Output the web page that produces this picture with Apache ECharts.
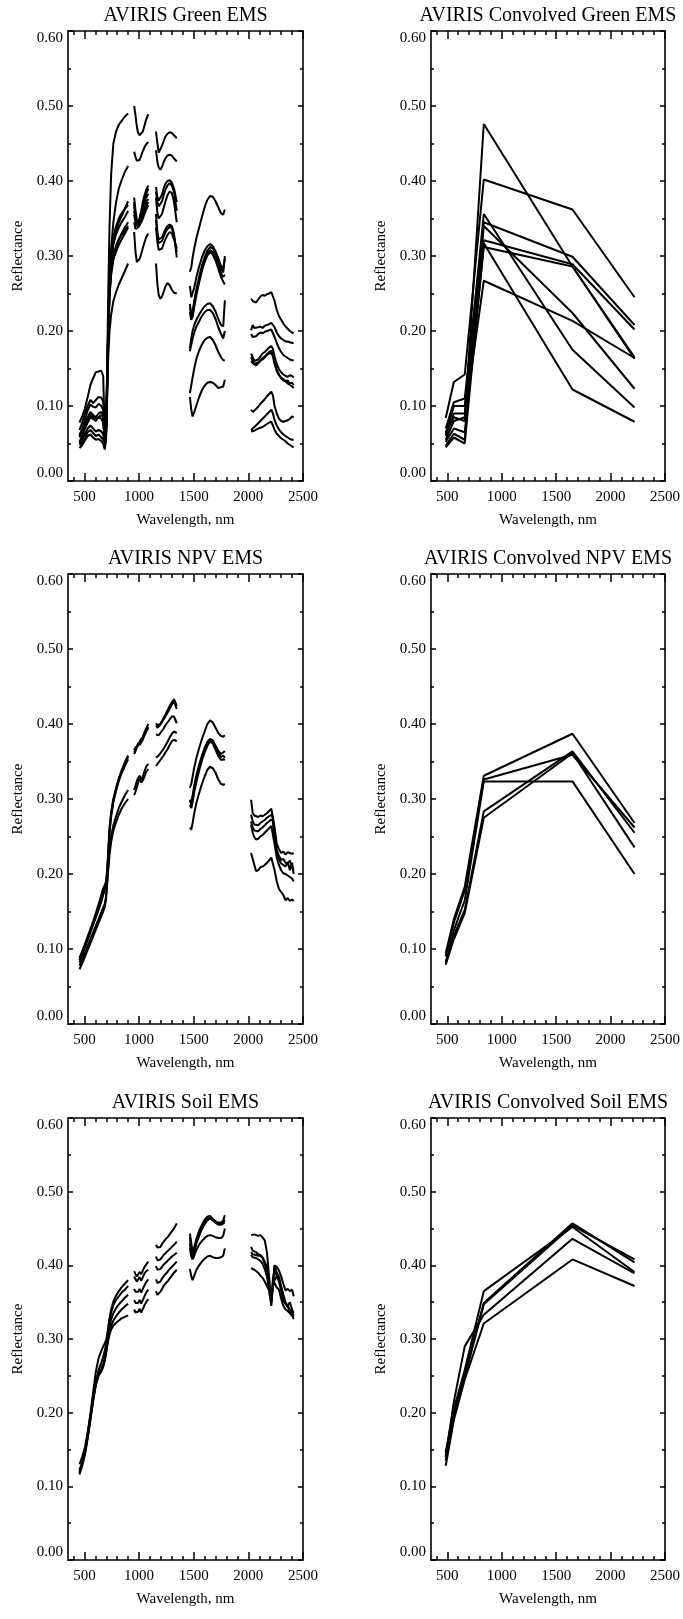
<!DOCTYPE html>
<html>
<head>
<meta charset="utf-8">
<script src="https://cdn.jsdelivr.net/npm/echarts@6/dist/echarts.min.js"></script>
<style>
  html, body { margin: 0; padding: 0; background: #fff; }
  #chart { width: 683px; height: 1619px; }
</style>
</head>
<body>
<div id="chart"></div>
<script>
// ---- Wavelength samples (nm) of the five atmospheric windows kept in the AVIRIS spectra
const seg1Nm = [455, 480, 505, 530, 555, 580, 605, 630, 655, 672, 686, 698, 708, 718, 730, 745, 765, 790, 815, 840, 870, 900];
const seg2Nm = [955, 968, 980, 992, 1005, 1020, 1035, 1050, 1065, 1085];
const seg3Nm = [1155, 1168, 1180, 1195, 1210, 1225, 1240, 1260, 1280, 1300, 1320, 1345];
const seg4Nm = [1465, 1478, 1490, 1505, 1525, 1550, 1575, 1600, 1625, 1650, 1675, 1700, 1725, 1750, 1770, 1785];
const seg5Nm = [2025, 2040, 2055, 2070, 2090, 2110, 2130, 2150, 2170, 2190, 2210, 2225, 2240, 2260, 2280, 2300, 2320, 2340, 2360, 2380, 2400, 2415];

// ---- Landsat TM band centres (nm) used for the convolved spectra
const tmBandsNm = [485, 560, 660, 835, 1650, 2220];

// ---- Tick positions
const xMajorTicks = [500, 1000, 1500, 2000, 2500];
const xMinorTicks = [400, 600, 700, 800, 900, 1100, 1200, 1300, 1400, 1600, 1700, 1800, 1900, 2100, 2200, 2300, 2400];

// ---- Panel titles
const panelTitles = [
  'AVIRIS Green EMS', 'AVIRIS Convolved Green EMS',
  'AVIRIS NPV EMS', 'AVIRIS Convolved NPV EMS',
  'AVIRIS Soil EMS', 'AVIRIS Convolved Soil EMS'
];

// ---- Green vegetation endmembers (one array per window)
const greenEm1 = [
  [0.062, 0.068, 0.075, 0.082, 0.088, 0.086, 0.083, 0.085, 0.083, 0.078, 0.05, 0.065, 0.15, 0.25, 0.34, 0.41, 0.45, 0.466, 0.475, 0.48, 0.486, 0.49],
  [0.50, 0.487, 0.472, 0.464, 0.461, 0.462, 0.466, 0.474, 0.482, 0.489],
  [0.466, 0.45, 0.438, 0.44, 0.447, 0.453, 0.459, 0.463, 0.465, 0.464, 0.461, 0.457],
  [0.236, 0.222, 0.226, 0.24, 0.256, 0.272, 0.287, 0.298, 0.307, 0.312, 0.31, 0.304, 0.294, 0.283, 0.278, 0.30],
  [0.17, 0.165, 0.16, 0.158, 0.162, 0.166, 0.17, 0.172, 0.175, 0.178, 0.18, 0.176, 0.166, 0.156, 0.149, 0.145, 0.142, 0.14, 0.139, 0.141, 0.14, 0.138]
];
const greenEm2 = [
  [0.078, 0.086, 0.097, 0.112, 0.128, 0.137, 0.145, 0.146, 0.147, 0.14, 0.06, 0.075, 0.14, 0.21, 0.27, 0.31, 0.345, 0.372, 0.39, 0.401, 0.412, 0.42],
  [0.439, 0.432, 0.427, 0.426, 0.428, 0.434, 0.44, 0.445, 0.449, 0.452],
  [0.441, 0.425, 0.418, 0.415, 0.419, 0.425, 0.43, 0.434, 0.435, 0.434, 0.43, 0.426],
  [0.279, 0.285, 0.298, 0.31, 0.324, 0.338, 0.352, 0.365, 0.375, 0.38, 0.379, 0.373, 0.365, 0.357, 0.355, 0.362],
  [0.243, 0.24, 0.241, 0.238, 0.242, 0.246, 0.248, 0.247, 0.249, 0.25, 0.252, 0.254, 0.24, 0.228, 0.22, 0.215, 0.21, 0.206, 0.203, 0.2, 0.198, 0.197]
];
const greenEm3 = [
  [0.068, 0.078, 0.09, 0.1, 0.108, 0.104, 0.108, 0.112, 0.111, 0.106, 0.055, 0.07, 0.13, 0.2, 0.255, 0.29, 0.317, 0.333, 0.345, 0.353, 0.363, 0.373],
  [0.378, 0.36, 0.348, 0.345, 0.35, 0.36, 0.372, 0.381, 0.388, 0.394],
  [0.392, 0.378, 0.374, 0.376, 0.382, 0.39, 0.396, 0.4, 0.401, 0.398, 0.39, 0.372],
  [0.26, 0.245, 0.246, 0.258, 0.272, 0.286, 0.298, 0.307, 0.313, 0.316, 0.313, 0.306, 0.297, 0.287, 0.283, 0.296],
  [0.201, 0.208, 0.204, 0.203, 0.205, 0.206, 0.204, 0.207, 0.208, 0.209, 0.211, 0.212, 0.205, 0.198, 0.193, 0.19, 0.188, 0.186, 0.186, 0.185, 0.184, 0.184]
];
const greenEm4 = [
  [0.058, 0.066, 0.077, 0.085, 0.092, 0.088, 0.085, 0.09, 0.092, 0.088, 0.05, 0.065, 0.13, 0.2, 0.25, 0.28, 0.3, 0.313, 0.322, 0.33, 0.338, 0.345],
  [0.36, 0.348, 0.342, 0.343, 0.35, 0.358, 0.366, 0.372, 0.378, 0.383],
  [0.356, 0.332, 0.322, 0.32, 0.325, 0.33, 0.335, 0.34, 0.342, 0.34, 0.33, 0.298],
  [0.232, 0.219, 0.222, 0.236, 0.252, 0.268, 0.283, 0.294, 0.303, 0.308, 0.305, 0.298, 0.288, 0.277, 0.272, 0.275],
  [0.196, 0.192, 0.194, 0.193, 0.196, 0.198, 0.197, 0.199, 0.2, 0.201, 0.202, 0.2, 0.192, 0.184, 0.177, 0.172, 0.168, 0.166, 0.164, 0.162, 0.161, 0.161]
];
const greenEm5 = [
  [0.05, 0.056, 0.063, 0.07, 0.074, 0.07, 0.066, 0.068, 0.066, 0.062, 0.045, 0.06, 0.125, 0.195, 0.245, 0.275, 0.295, 0.306, 0.315, 0.322, 0.33, 0.338],
  [0.355, 0.345, 0.34, 0.341, 0.344, 0.35, 0.356, 0.362, 0.367, 0.372],
  [0.348, 0.325, 0.317, 0.316, 0.32, 0.326, 0.331, 0.336, 0.339, 0.337, 0.326, 0.305],
  [0.225, 0.215, 0.219, 0.232, 0.248, 0.265, 0.28, 0.292, 0.301, 0.305, 0.302, 0.294, 0.283, 0.272, 0.266, 0.262],
  [0.165, 0.16, 0.156, 0.155, 0.158, 0.161, 0.164, 0.166, 0.169, 0.172, 0.174, 0.169, 0.158, 0.148, 0.142, 0.138, 0.136, 0.133, 0.13, 0.128, 0.126, 0.124]
];
const greenEm6 = [
  [0.06, 0.07, 0.082, 0.094, 0.102, 0.099, 0.098, 0.103, 0.1, 0.095, 0.05, 0.065, 0.13, 0.21, 0.265, 0.3, 0.326, 0.34, 0.35, 0.357, 0.363, 0.368],
  [0.372, 0.352, 0.342, 0.34, 0.346, 0.356, 0.366, 0.376, 0.383, 0.39],
  [0.386, 0.372, 0.366, 0.366, 0.373, 0.381, 0.388, 0.394, 0.397, 0.394, 0.385, 0.36],
  [0.117, 0.128, 0.138, 0.15, 0.163, 0.174, 0.182, 0.188, 0.191, 0.192, 0.188, 0.181, 0.172, 0.165, 0.161, 0.161],
  [0.068, 0.07, 0.072, 0.074, 0.077, 0.08, 0.083, 0.086, 0.089, 0.092, 0.095, 0.09, 0.081, 0.074, 0.069, 0.065, 0.062, 0.06, 0.058, 0.056, 0.055, 0.055]
];
const greenEm7 = [
  [0.048, 0.052, 0.058, 0.065, 0.068, 0.064, 0.06, 0.062, 0.058, 0.055, 0.045, 0.06, 0.12, 0.2, 0.255, 0.29, 0.316, 0.329, 0.338, 0.345, 0.352, 0.36],
  [0.368, 0.35, 0.34, 0.338, 0.341, 0.349, 0.357, 0.364, 0.372, 0.376],
  [0.378, 0.357, 0.35, 0.35, 0.356, 0.364, 0.372, 0.381, 0.386, 0.384, 0.372, 0.345],
  [0.177, 0.19, 0.2, 0.208, 0.215, 0.222, 0.228, 0.233, 0.236, 0.237, 0.233, 0.226, 0.216, 0.208, 0.206, 0.241],
  [0.095, 0.092, 0.094, 0.096, 0.099, 0.103, 0.106, 0.109, 0.113, 0.116, 0.119, 0.114, 0.1, 0.09, 0.083, 0.08, 0.079, 0.08, 0.081, 0.083, 0.086, 0.085]
];
const greenEm8 = [
  [0.044, 0.048, 0.054, 0.06, 0.062, 0.058, 0.055, 0.056, 0.053, 0.05, 0.042, 0.055, 0.12, 0.195, 0.25, 0.282, 0.302, 0.313, 0.322, 0.328, 0.334, 0.34],
  [0.345, 0.336, 0.336, 0.338, 0.34, 0.345, 0.35, 0.356, 0.362, 0.368],
  [0.29, 0.262, 0.248, 0.243, 0.246, 0.252, 0.259, 0.264, 0.261, 0.255, 0.251, 0.25],
  [0.112, 0.095, 0.086, 0.092, 0.101, 0.112, 0.121, 0.127, 0.131, 0.132, 0.131, 0.128, 0.124, 0.125, 0.126, 0.135],
  [0.066, 0.066, 0.067, 0.068, 0.07, 0.071, 0.072, 0.074, 0.076, 0.078, 0.079, 0.074, 0.068, 0.063, 0.06, 0.057, 0.055, 0.053, 0.05, 0.048, 0.046, 0.045]
];
const greenEm9 = [
  [0.052, 0.06, 0.07, 0.078, 0.085, 0.083, 0.08, 0.085, 0.088, 0.085, 0.05, 0.062, 0.11, 0.165, 0.2, 0.222, 0.24, 0.252, 0.262, 0.27, 0.28, 0.29],
  [0.332, 0.305, 0.292, 0.29, 0.296, 0.303, 0.311, 0.318, 0.325, 0.33],
  [0.338, 0.318, 0.308, 0.306, 0.31, 0.316, 0.322, 0.328, 0.332, 0.33, 0.322, 0.31],
  [0.173, 0.182, 0.19, 0.198, 0.206, 0.213, 0.22, 0.225, 0.228, 0.228, 0.224, 0.216, 0.205, 0.196, 0.19, 0.2],
  [0.16, 0.157, 0.155, 0.154, 0.157, 0.16, 0.162, 0.165, 0.168, 0.17, 0.171, 0.166, 0.156, 0.147, 0.141, 0.137, 0.134, 0.133, 0.134, 0.13, 0.131, 0.128]
];

// ---- Non-photosynthetic vegetation endmembers
const npvEm1 = [
  [0.088, 0.097, 0.107, 0.117, 0.127, 0.137, 0.148, 0.16, 0.172, 0.181, 0.185, 0.19, 0.205, 0.23, 0.262, 0.283, 0.3, 0.315, 0.328, 0.338, 0.349, 0.358],
  [0.362, 0.366, 0.37, 0.372, 0.374, 0.378, 0.383, 0.389, 0.394, 0.4],
  [0.401, 0.398, 0.397, 0.4, 0.404, 0.408, 0.412, 0.418, 0.424, 0.429, 0.433, 0.424],
  [0.315, 0.32, 0.33, 0.342, 0.355, 0.368, 0.38, 0.39, 0.4, 0.405, 0.402, 0.395, 0.388, 0.384, 0.383, 0.385],
  [0.299, 0.281, 0.278, 0.277, 0.276, 0.278, 0.277, 0.279, 0.281, 0.284, 0.287, 0.288, 0.262, 0.24, 0.233, 0.228, 0.23, 0.226, 0.229, 0.228, 0.227, 0.228]
];
const npvEm2 = [
  [0.085, 0.094, 0.104, 0.114, 0.124, 0.134, 0.145, 0.156, 0.167, 0.176, 0.181, 0.186, 0.2, 0.226, 0.258, 0.28, 0.298, 0.313, 0.326, 0.337, 0.348, 0.356],
  [0.365, 0.369, 0.368, 0.371, 0.376, 0.38, 0.382, 0.386, 0.391, 0.396],
  [0.398, 0.395, 0.396, 0.399, 0.403, 0.406, 0.41, 0.415, 0.42, 0.426, 0.43, 0.42],
  [0.299, 0.296, 0.305, 0.318, 0.332, 0.346, 0.358, 0.368, 0.376, 0.38, 0.378, 0.371, 0.364, 0.36, 0.362, 0.364],
  [0.279, 0.27, 0.266, 0.264, 0.265, 0.268, 0.27, 0.272, 0.275, 0.277, 0.279, 0.275, 0.25, 0.232, 0.224, 0.219, 0.22, 0.215, 0.214, 0.218, 0.208, 0.205]
];
const npvEm3 = [
  [0.082, 0.092, 0.102, 0.112, 0.122, 0.132, 0.142, 0.152, 0.163, 0.172, 0.178, 0.184, 0.198, 0.224, 0.255, 0.277, 0.296, 0.311, 0.324, 0.334, 0.344, 0.353],
  [0.36, 0.364, 0.37, 0.375, 0.372, 0.374, 0.379, 0.385, 0.39, 0.394],
  [0.386, 0.384, 0.385, 0.387, 0.391, 0.394, 0.398, 0.402, 0.406, 0.41, 0.41, 0.401],
  [0.262, 0.259, 0.268, 0.281, 0.295, 0.308, 0.32, 0.33, 0.339, 0.343, 0.341, 0.335, 0.326, 0.32, 0.319, 0.32],
  [0.228, 0.22, 0.212, 0.204, 0.205, 0.209, 0.21, 0.212, 0.215, 0.218, 0.222, 0.224, 0.205, 0.19, 0.18, 0.176, 0.172, 0.165, 0.168, 0.164, 0.166, 0.164]
];
const npvEm4 = [
  [0.078, 0.086, 0.095, 0.104, 0.113, 0.122, 0.131, 0.14, 0.149, 0.155, 0.16, 0.17, 0.19, 0.21, 0.232, 0.25, 0.265, 0.277, 0.288, 0.296, 0.305, 0.312],
  [0.312, 0.318, 0.324, 0.328, 0.331, 0.326, 0.33, 0.337, 0.343, 0.347],
  [0.355, 0.356, 0.358, 0.36, 0.364, 0.367, 0.371, 0.376, 0.382, 0.387, 0.39, 0.388],
  [0.298, 0.292, 0.3, 0.313, 0.328, 0.342, 0.355, 0.366, 0.374, 0.379, 0.377, 0.369, 0.361, 0.356, 0.358, 0.355],
  [0.27, 0.262, 0.258, 0.256, 0.257, 0.26, 0.262, 0.265, 0.268, 0.27, 0.273, 0.27, 0.245, 0.228, 0.22, 0.214, 0.212, 0.21, 0.216, 0.205, 0.215, 0.2]
];
const npvEm5 = [
  [0.073, 0.081, 0.09, 0.099, 0.108, 0.117, 0.126, 0.135, 0.144, 0.15, 0.156, 0.166, 0.185, 0.205, 0.226, 0.243, 0.258, 0.269, 0.279, 0.287, 0.294, 0.30],
  [0.305, 0.31, 0.316, 0.322, 0.327, 0.322, 0.325, 0.33, 0.336, 0.34],
  [0.344, 0.346, 0.349, 0.352, 0.355, 0.358, 0.362, 0.366, 0.372, 0.377, 0.379, 0.377],
  [0.292, 0.288, 0.296, 0.309, 0.323, 0.338, 0.351, 0.362, 0.371, 0.377, 0.374, 0.366, 0.357, 0.352, 0.353, 0.352],
  [0.266, 0.255, 0.249, 0.246, 0.247, 0.25, 0.252, 0.255, 0.258, 0.261, 0.264, 0.262, 0.24, 0.222, 0.212, 0.205, 0.201, 0.2, 0.198, 0.196, 0.194, 0.19]
];

// ---- Soil endmembers
const soilEm1 = [
  [0.118, 0.13, 0.146, 0.17, 0.198, 0.228, 0.256, 0.274, 0.284, 0.29, 0.294, 0.298, 0.305, 0.315, 0.328, 0.34, 0.351, 0.359, 0.365, 0.37, 0.375, 0.38],
  [0.392, 0.388, 0.385, 0.386, 0.391, 0.388, 0.393, 0.398, 0.401, 0.405],
  [0.428, 0.424, 0.422, 0.425, 0.429, 0.432, 0.435, 0.438, 0.442, 0.446, 0.45, 0.457],
  [0.443, 0.43, 0.418, 0.425, 0.436, 0.447, 0.455, 0.462, 0.466, 0.467, 0.463, 0.459, 0.458, 0.458, 0.461, 0.468],
  [0.441, 0.443, 0.442, 0.441, 0.44, 0.441, 0.438, 0.434, 0.418, 0.385, 0.35, 0.378, 0.4, 0.398, 0.393, 0.385, 0.375, 0.366, 0.368, 0.365, 0.367, 0.358]
];
const soilEm2 = [
  [0.12, 0.131, 0.145, 0.167, 0.193, 0.22, 0.243, 0.258, 0.268, 0.276, 0.284, 0.293, 0.303, 0.314, 0.326, 0.336, 0.346, 0.353, 0.358, 0.363, 0.367, 0.372],
  [0.385, 0.381, 0.378, 0.38, 0.384, 0.379, 0.384, 0.389, 0.392, 0.394],
  [0.412, 0.407, 0.405, 0.408, 0.411, 0.414, 0.416, 0.419, 0.422, 0.425, 0.428, 0.432],
  [0.438, 0.42, 0.412, 0.42, 0.432, 0.443, 0.452, 0.458, 0.463, 0.465, 0.462, 0.46, 0.456, 0.457, 0.458, 0.462],
  [0.425, 0.42, 0.419, 0.418, 0.415, 0.414, 0.411, 0.405, 0.398, 0.372, 0.348, 0.37, 0.4, 0.39, 0.385, 0.372, 0.36, 0.35, 0.345, 0.34, 0.336, 0.332]
];
const soilEm3 = [
  [0.116, 0.128, 0.143, 0.165, 0.19, 0.216, 0.238, 0.252, 0.26, 0.266, 0.274, 0.285, 0.296, 0.306, 0.317, 0.327, 0.335, 0.342, 0.347, 0.351, 0.356, 0.36],
  [0.368, 0.364, 0.362, 0.364, 0.368, 0.363, 0.368, 0.373, 0.377, 0.381],
  [0.399, 0.394, 0.392, 0.395, 0.398, 0.401, 0.403, 0.406, 0.409, 0.412, 0.414, 0.417],
  [0.43, 0.415, 0.41, 0.418, 0.43, 0.44, 0.449, 0.456, 0.461, 0.464, 0.461, 0.458, 0.455, 0.455, 0.457, 0.458],
  [0.418, 0.415, 0.414, 0.414, 0.413, 0.413, 0.41, 0.402, 0.39, 0.365, 0.345, 0.382, 0.392, 0.386, 0.38, 0.37, 0.356, 0.348, 0.343, 0.338, 0.332, 0.327]
];
const soilEm4 = [
  [0.122, 0.133, 0.147, 0.168, 0.192, 0.217, 0.238, 0.25, 0.256, 0.262, 0.27, 0.28, 0.291, 0.3, 0.31, 0.318, 0.325, 0.331, 0.336, 0.34, 0.344, 0.348],
  [0.353, 0.349, 0.347, 0.349, 0.353, 0.348, 0.353, 0.358, 0.363, 0.367],
  [0.381, 0.376, 0.375, 0.378, 0.382, 0.385, 0.388, 0.391, 0.395, 0.398, 0.401, 0.405],
  [0.423, 0.412, 0.408, 0.413, 0.421, 0.428, 0.433, 0.437, 0.44, 0.441, 0.44, 0.438, 0.437, 0.437, 0.44, 0.45],
  [0.414, 0.411, 0.412, 0.41, 0.408, 0.406, 0.402, 0.395, 0.385, 0.37, 0.36, 0.372, 0.38, 0.385, 0.378, 0.365, 0.352, 0.348, 0.345, 0.35, 0.34, 0.335]
];
const soilEm5 = [
  [0.13, 0.14, 0.153, 0.174, 0.197, 0.22, 0.24, 0.252, 0.258, 0.264, 0.272, 0.281, 0.29, 0.298, 0.306, 0.313, 0.318, 0.322, 0.325, 0.328, 0.33, 0.332],
  [0.34, 0.336, 0.335, 0.337, 0.341, 0.336, 0.341, 0.346, 0.35, 0.354],
  [0.365, 0.36, 0.36, 0.364, 0.368, 0.372, 0.375, 0.378, 0.382, 0.386, 0.39, 0.394],
  [0.395, 0.385, 0.38, 0.386, 0.394, 0.4, 0.405, 0.409, 0.412, 0.413, 0.411, 0.41, 0.41, 0.411, 0.413, 0.423],
  [0.396, 0.395, 0.394, 0.393, 0.39, 0.386, 0.383, 0.378, 0.372, 0.366, 0.362, 0.372, 0.376, 0.37, 0.367, 0.355, 0.345, 0.34, 0.338, 0.335, 0.332, 0.329]
];

// ---- Endmembers convolved to the TM bands (one value per band)
const convGreen = [
  [0.065, 0.085, 0.08, 0.476, 0.286, 0.165],
  [0.084, 0.132, 0.142, 0.402, 0.362, 0.245],
  [0.07, 0.105, 0.11, 0.345, 0.299, 0.208],
  [0.06, 0.09, 0.09, 0.321, 0.289, 0.202],
  [0.052, 0.07, 0.065, 0.312, 0.286, 0.163],
  [0.062, 0.1, 0.1, 0.356, 0.175, 0.098],
  [0.047, 0.063, 0.055, 0.340, 0.224, 0.123],
  [0.045, 0.058, 0.05, 0.317, 0.122, 0.079],
  [0.055, 0.08, 0.085, 0.267, 0.2135, 0.164]
];
const convNpv = [
  [0.094, 0.14, 0.183, 0.331, 0.387, 0.268],
  [0.09, 0.135, 0.178, 0.326, 0.359, 0.262],
  [0.08, 0.125, 0.165, 0.3235, 0.3235, 0.2],
  [0.083, 0.118, 0.152, 0.2835, 0.3635, 0.255],
  [0.079, 0.113, 0.148, 0.275, 0.361, 0.2355]
];
const convSoil = [
  [0.14, 0.215, 0.29, 0.333, 0.436, 0.389],
  [0.146, 0.205, 0.258, 0.365, 0.452, 0.391],
  [0.142, 0.2, 0.253, 0.349, 0.457, 0.404],
  [0.135, 0.195, 0.248, 0.347, 0.454, 0.408],
  [0.128, 0.19, 0.245, 0.321, 0.408, 0.372]
];

// ---------------------------------------------------------------------------
const FONT = 'Liberation Serif';
const INK = '#000';
const segmentsNm = [seg1Nm, seg2Nm, seg3Nm, seg4Nm, seg5Nm];

// Join the windows into one [nm, refl] list, with a null between windows so the
// absorption bands stay blank.
function windowedSeries(spectrum) {
  const out = [];
  segmentsNm.forEach((nm, s) => {
    if (s > 0) {
      const prev = segmentsNm[s - 1];
      out.push([(prev[prev.length - 1] + nm[0]) / 2, null]);
    }
    nm.forEach((w, k) => out.push([w, spectrum[s][k]]));
  });
  return out;
}
function bandSeries(values) {
  return tmBandsNm.map((w, k) => [w, values[k]]);
}

const panels = [
  { left: 68,  top: 31,   width: 235, height: 450, lines: [greenEm1, greenEm2, greenEm3, greenEm4, greenEm5, greenEm6, greenEm7, greenEm8, greenEm9].map(windowedSeries) },
  { left: 431, top: 31,   width: 234, height: 450, lines: convGreen.map(bandSeries) },
  { left: 68,  top: 574,  width: 235, height: 450, lines: [npvEm1, npvEm2, npvEm3, npvEm4, npvEm5].map(windowedSeries) },
  { left: 431, top: 574,  width: 234, height: 450, lines: convNpv.map(bandSeries) },
  { left: 68,  top: 1118, width: 235, height: 442, lines: [soilEm1, soilEm2, soilEm3, soilEm4, soilEm5].map(windowedSeries) },
  { left: 431, top: 1118, width: 234, height: 442, lines: convSoil.map(bandSeries) }
];

const grid = [], xAxis = [], yAxis = [], series = [], graphic = [];
const labelStyle = { fontFamily: FONT, fontSize: 15, color: INK };
const frame = { color: INK, width: 1.6 };
const tickLine = { color: INK, width: 1.5 };

panels.forEach((p, i) => {
  grid.push({ left: p.left, top: p.top, width: p.width, height: p.height, containLabel: false });

  const xBase = { gridIndex: i, type: 'value', min: 350, max: 2500, splitLine: { show: false }, minorSplitLine: { show: false } };
  // bottom: major ticks, labels and name
  xAxis.push(Object.assign({}, xBase, {
    position: 'bottom',
    axisLine: { show: true, onZero: false, lineStyle: frame },
    axisTick: { show: true, inside: true, length: 8, customValues: xMajorTicks, lineStyle: tickLine },
    axisLabel: Object.assign({ show: true, margin: 9, customValues: xMajorTicks, formatter: v => String(v) }, labelStyle),
    name: 'Wavelength, nm', nameLocation: 'middle', nameGap: 32,
    nameTextStyle: labelStyle
  }));
  // bottom: minor ticks
  xAxis.push(Object.assign({}, xBase, {
    position: 'bottom',
    axisLine: { show: false, onZero: false },
    axisTick: { show: true, inside: true, length: 4, customValues: xMinorTicks, lineStyle: tickLine },
    axisLabel: { show: false }
  }));
  // top: major ticks
  xAxis.push(Object.assign({}, xBase, {
    position: 'top',
    axisLine: { show: true, onZero: false, lineStyle: frame },
    axisTick: { show: true, inside: true, length: 8, customValues: xMajorTicks, lineStyle: tickLine },
    axisLabel: { show: false }
  }));
  // top: minor ticks
  xAxis.push(Object.assign({}, xBase, {
    position: 'top',
    axisLine: { show: false, onZero: false },
    axisTick: { show: true, inside: true, length: 4, customValues: xMinorTicks, lineStyle: tickLine },
    axisLabel: { show: false }
  }));

  const yBase = {
    gridIndex: i, type: 'value', min: 0, max: 0.6, interval: 0.1,
    splitLine: { show: false }, minorSplitLine: { show: false },
    axisTick: { show: true, inside: true, length: 5, lineStyle: tickLine },
    minorTick: { show: true, splitNumber: 2, length: 3, lineStyle: tickLine }
  };
  yAxis.push(Object.assign({}, yBase, {
    position: 'left',
    axisLine: { show: true, onZero: false, lineStyle: frame },
    axisLabel: Object.assign({
      show: true, margin: 5, formatter: v => v.toFixed(2),
      verticalAlignMaxLabel: 'top', verticalAlignMinLabel: 'bottom'
    }, labelStyle),
    name: 'Reflectance', nameLocation: 'middle', nameGap: 42, nameRotate: 90,
    nameTextStyle: labelStyle
  }));
  yAxis.push(Object.assign({}, yBase, {
    position: 'right',
    axisLine: { show: true, onZero: false, lineStyle: frame },
    axisLabel: { show: false }
  }));

  p.lines.forEach(data => {
    series.push({
      type: 'line', xAxisIndex: i * 4, yAxisIndex: i * 2,
      data: data, showSymbol: false, symbol: 'none', connectNulls: false,
      lineStyle: { color: INK, width: 2 }, silent: true
    });
  });

  graphic.push({
    type: 'text', x: p.left + p.width / 2, y: p.top - 15,
    style: {
      text: panelTitles[i], fill: INK, font: '20px "Liberation Serif"',
      align: 'center', verticalAlign: 'middle', textAlign: 'center', textVerticalAlign: 'middle'
    },
    silent: true
  });
});

const chart = echarts.init(document.getElementById('chart'), null, { renderer: 'canvas' });
chart.setOption({
  animation: false,
  backgroundColor: '#fff',
  grid, xAxis, yAxis, series, graphic
});
</script>
</body>
</html>
